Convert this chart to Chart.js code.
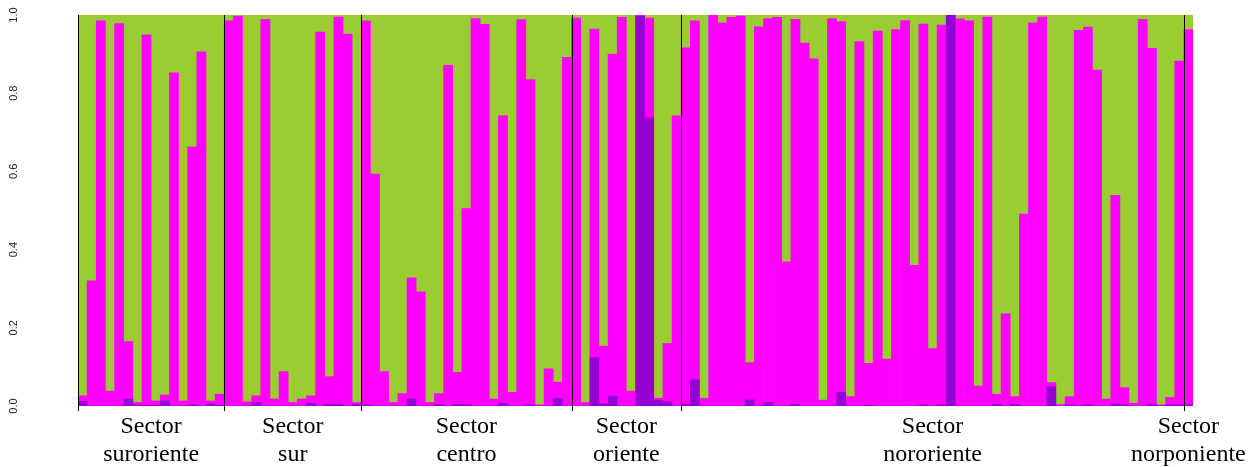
<!DOCTYPE html>
<html><head><meta charset="utf-8">
<script src="https://cdn.jsdelivr.net/npm/chart.js@4"></script>
<style>html,body{margin:0;padding:0;background:#fff;}#wrap{width:1258px;height:467px;}</style>
</head><body><div id="wrap"><canvas id="c" width="1258" height="467"></canvas></div>
<script>
// ancestry proportions per individual (bottom: purple, middle: magenta, top: green)
const clusterPurple = [
0.012,0,0,0,0,0.018,0.002,0.002,0.002,0.013,0,0,0.003,0,0.005,0.002,
0,0,0,0.009,0,0,0,0,0,0.007,0,0.005,0.004,0,0.004,
0.003,0,0,0,0,0.018,0,0,0.004,0,0.004,0.003,0,0,0,0.007,0,0,0.003,0,0,0.020,0,
0,0,0.124,0.005,0.025,0,0,0.997,0.737,0.015,0.011,0,
0.004,0.068,0,0,0,0,0,0.016,0,0.009,0,0,0.004,0,0,0,0,0.035,0,0,0.002,0,0,0,0,0,0.003,0,0.003,1.0,0,0,0,0,0.004,0,0.004,0,0,0,0.049,0,0.003,0,0.003,0,0,0.005,0.003,0,0,0.005,0,0.003,0.003,
0.003];
const clusterMagenta = [
0.014,0.320,0.985,0.038,0.978,0.147,0.007,0.947,0.011,0.015,0.852,0.013,0.660,0.906,0.008,0.028,
0.985,0.997,0.011,0.017,0.989,0.018,0.088,0.009,0.018,0.019,0.956,0.070,0.991,0.951,0.005,
0.982,0.593,0.088,0.009,0.032,0.310,0.292,0.009,0.028,0.871,0.082,0.502,0.991,0.976,0.018,0.736,0.035,0.988,0.832,0.003,0.095,0.041,0.892,
0.992,0.009,0.840,0.148,0.875,0.994,0.038,0.003,0.255,0.005,0.149,0.742,
0.912,0.917,0.020,0.999,0.980,0.994,0.997,0.095,0.970,0.982,0.994,0.369,0.985,0.928,0.888,0.015,0.991,0.948,0.024,0.932,0.107,0.959,0.120,0.963,0.986,0.360,0.974,0.147,0.971,0,0.990,0.985,0.051,0.995,0.026,0.236,0.020,0.491,0.980,0.995,0.011,0.004,0.021,0.961,0.966,0.859,0.018,0.534,0.044,0.007,0.989,0.910,0.003,0.019,0.879,
0.960];
const clusterGreen = [
0.974,0.680,0.015,0.962,0.022,0.835,0.991,0.051,0.987,0.972,0.148,0.987,0.337,0.094,0.987,0.970,
0.015,0.003,0.989,0.974,0.011,0.982,0.912,0.991,0.982,0.974,0.044,0.925,0.005,0.049,0.991,
0.015,0.407,0.912,0.991,0.968,0.672,0.708,0.991,0.968,0.129,0.914,0.495,0.009,0.024,0.982,0.257,0.965,0.012,0.165,0.997,0.905,0.939,0.108,
0.008,0.991,0.036,0.847,0.100,0.006,0.962,0,0.008,0.980,0.840,0.258,
0.084,0.015,0.980,0.001,0.020,0.006,0.003,0.889,0.030,0.009,0.006,0.631,0.011,0.072,0.112,0.985,0.009,0.017,0.976,0.068,0.891,0.041,0.880,0.037,0.014,0.640,0.023,0.853,0.026,0,0.010,0.015,0.949,0.005,0.970,0.764,0.976,0.509,0.020,0.005,0.940,0.996,0.976,0.039,0.031,0.141,0.982,0.461,0.953,0.993,0.011,0.085,0.997,0.978,0.118,
0.037];
const individuals = clusterPurple.map((_, i) => String(i + 1));
const sectionNames = ['suroriente','sur','centro','oriente','nororiente','norponiente'];
const sectionStarts = [0, 16, 31, 54, 66, 121];
const yTickValues = [0, 0.2, 0.4, 0.6, 0.8, 1.0];
const yTickLabels = ['0.0','0.2','0.4','0.6','0.8','1.0'];

const overlay = {
  id: 'overlay',
  afterDatasetsDraw(chart) {
    const {ctx, chartArea, scales} = chart;
    const y = scales.y;
    const n = individuals.length;
    const bw = (chartArea.right - chartArea.left) / n;
    const edge = i => chartArea.left + i * bw;
    ctx.save();
    // section dividers
    ctx.strokeStyle = '#000';
    ctx.lineWidth = 1;
    sectionStarts.forEach(s => {
      const px = Math.round(edge(s)) + 0.5;
      ctx.beginPath();
      ctx.moveTo(px, chartArea.top);
      ctx.lineTo(px, chartArea.bottom + 5);
      ctx.stroke();
    });
    // y tick labels (rotated)
    ctx.fillStyle = '#222';
    ctx.font = '11px "Liberation Sans", Arial, sans-serif';
    ctx.textAlign = 'center';
    ctx.textBaseline = 'middle';
    yTickValues.forEach((v, k) => {
      const py = y.getPixelForValue(v);
      ctx.save();
      ctx.translate(14, py);
      ctx.rotate(-Math.PI / 2);
      ctx.fillText(yTickLabels[k], 0, 0);
      ctx.restore();
    });
    // section labels
    ctx.fillStyle = '#000';
    ctx.font = '24px "Liberation Serif", "Times New Roman", serif';
    ctx.textBaseline = 'middle';
    sectionNames.forEach((name, k) => {
      const s = sectionStarts[k];
      const e = k + 1 < sectionStarts.length ? sectionStarts[k + 1] : n;
      const cx = (edge(s) + edge(e)) / 2;
      ctx.fillText('Sector', cx, chartArea.bottom + 21);
      ctx.fillText(name, cx, chartArea.bottom + 49);
    });
    ctx.restore();
  }
};

new Chart(document.getElementById('c'), {
  type: 'bar',
  data: {
    labels: individuals,
    datasets: [
      {label: 'K1', data: clusterPurple, backgroundColor: '#9400D3'},
      {label: 'K2', data: clusterMagenta, backgroundColor: '#FF00FF'},
      {label: 'K3', data: clusterGreen, backgroundColor: '#9ACD32'}
    ]
  },
  options: {
    responsive: false,
    animation: false,
    devicePixelRatio: 1,
    layout: {padding: {left: 78, right: 65, top: 15, bottom: 61}},
    plugins: {legend: {display: false}, tooltip: {enabled: false}},
    datasets: {bar: {barPercentage: 1, categoryPercentage: 1, borderWidth: 0}},
    scales: {
      x: {stacked: true, display: false},
      y: {stacked: true, display: false, min: 0, max: 1}
    }
  },
  plugins: [overlay]
});
</script>
</body></html>
